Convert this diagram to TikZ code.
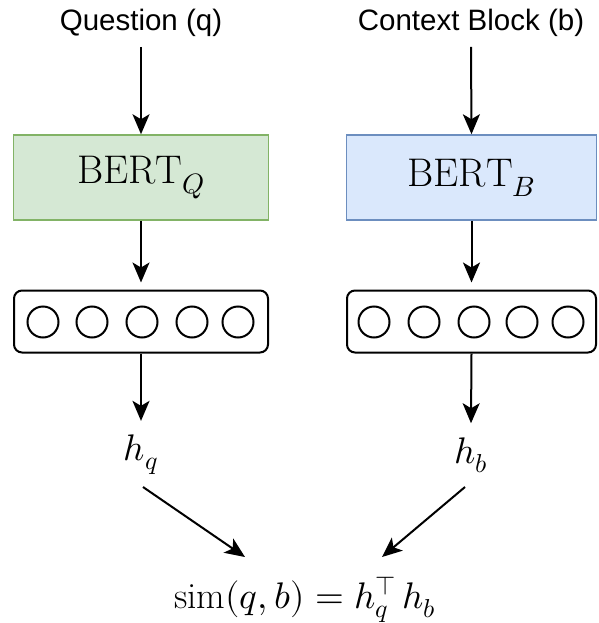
\documentclass[tikz,border=0pt]{standalone}
\usepackage{fontspec}
\usepackage{unicode-math}
\setmathfont{Latin Modern Math}
\newfontfamily\labelfont{Liberation Sans}
\usetikzlibrary{arrows.meta,calc}
\begin{document}
\begin{tikzpicture}[x=1pt,y=-1pt,
  lbl/.style={font=\labelfont\fontsize{29.5}{34}\selectfont, inner sep=2pt},
  mth/.style={font=\fontsize{37}{44}\selectfont, inner sep=2pt},
  encq/.style={draw={rgb,255:red,130;green,179;blue,102}, fill={rgb,255:red,213;green,232;blue,212}, line width=1.5pt, minimum height=85pt, font=\fontsize{40}{48}\selectfont},
  encb/.style={draw={rgb,255:red,108;green,142;blue,191}, fill={rgb,255:red,218;green,232;blue,252}, line width=1.5pt, minimum height=85pt, font=\fontsize{40}{48}\selectfont},
  vecbox/.style={draw=black, line width=2pt, rounded corners=8pt, minimum height=62pt},
  unit/.style={draw=black, line width=2pt, circle, minimum size=31pt, inner sep=0pt},
  arr/.style={draw=black, line width=2pt, -{Stealth[length=20pt,width=17pt,inset=5pt]}}
]
\useasboundingbox (0,0) rectangle (598,623);

% input labels
\node[lbl] (qlab) at (141,23) {Question (q)};
\node[lbl] (blab) at (471,23) {Context Block (b)};

% encoders
\node[encq, minimum width=255pt] (bq) at (141,177.5) {$\mathrm{BERT}_Q$};
\node[encb, minimum width=250pt] (bb) at (471.5,177.5) {$\mathrm{BERT}_B$};

% embedding vectors
\node[vecbox, minimum width=254pt] (vq) at (141,321.5) {};
\node[vecbox, minimum width=249pt] (vb) at (471.5,321.5) {};
\foreach \i/\cx in {1/43,2/92,3/142,4/192,5/238}
  \node[unit] (cq\i) at (\cx,322) {};
\foreach \i/\cx in {1/374,2/424,3/474,4/522,5/568}
  \node[unit] (cb\i) at (\cx,322) {};

% pooled representations
\node[mth] (hq) at (141,455) {$h_q$};
\node[mth] (hb) at (471,455) {$h_b$};

% similarity score
\node[mth] (sim) at (305,600) {$\mathrm{sim}(q,b) = h_q^{\top}\,h_b$};

% connectors (yshift is in page units: positive is upwards)
\draw[arr] ([yshift=-8]qlab.south) -- (bq.north);
\draw[arr] ([yshift=-8]blab.south) -- (bb.north);
\draw[arr] (bq.south) -- ([yshift=7]vq.north);
\draw[arr] (bb.south) -- ([yshift=7]vb.north);
\draw[arr] (vq.south) -- ([yshift=12]hq.north);
\draw[arr] (vb.south) -- ([yshift=12]hb.north);
\draw[arr] ([shift={(2,32)}]hq.center) -- ([shift={(-60,-43)}]sim.center);
\draw[arr] ([shift={(-6,32)}]hb.center) -- ([shift={(77,-43)}]sim.center);
\end{tikzpicture}
\end{document}
